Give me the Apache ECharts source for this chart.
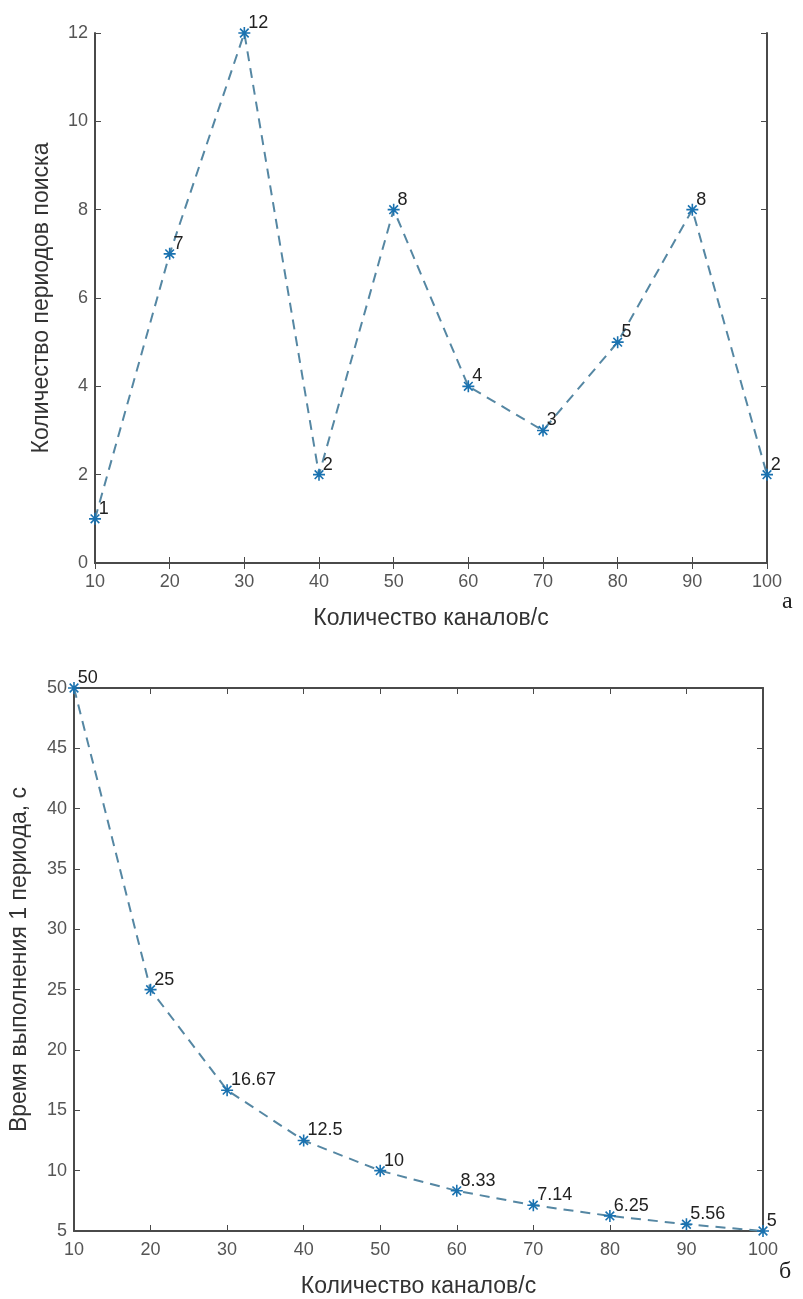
<!DOCTYPE html>
<html>
<head>
<meta charset="utf-8">
<script src="https://cdn.jsdelivr.net/npm/echarts@6/dist/echarts.min.js"></script>
<style>
    html, body { margin: 0; padding: 0; background: #fff; }
    #chart { width: 803px; height: 1299px; }
</style>
</head>
<body>
<div id="chart"></div>
<script>
const channels = [10, 20, 30, 40, 50, 60, 70, 80, 90, 100];
const periodsCount = [1, 7, 12, 2, 8, 4, 3, 5, 8, 2];
const periodTime = [50, 25, 16.67, 12.5, 10, 8.33, 7.14, 6.25, 5.56, 5];

const xName = 'Количество каналов/с';
const yNameA = 'Количество периодов поиска';
const yNameB = 'Время выполнения 1 периода, с';

const font = 'Liberation Sans';
const star = 'path://M0,-1L0,1M-1,0L1,0M-0.72,-0.72L0.72,0.72M-0.72,0.72L0.72,-0.72';

function pairs(ys) {
    return channels.map((x, i) => [x, ys[i]]);
}

function mainX(gi, gap) {
    return {
        gridIndex: gi, type: 'value', min: 10, max: 100, interval: 10,
        name: xName, nameLocation: 'middle', nameGap: gap,
        nameTextStyle: { color: '#333', fontSize: 23, fontFamily: font },
        axisLine: { show: true, lineStyle: { color: '#4a4a4a', width: 2 } },
        axisTick: { show: true, inside: true, length: 6, lineStyle: { color: '#4a4a4a' } },
        axisLabel: { color: '#555', fontSize: 18, fontFamily: font, margin: 10 },
        splitLine: { show: false }
    };
}

function mainY(gi, min, max, interval, name, gap) {
    return {
        gridIndex: gi, type: 'value', min: min, max: max, interval: interval,
        name: name, nameLocation: 'middle', nameGap: gap, nameRotate: 90,
        nameTextStyle: { color: '#333', fontSize: 23, fontFamily: font },
        axisLine: { show: true, lineStyle: { color: '#4a4a4a', width: 2 } },
        axisTick: { show: true, inside: true, length: 6, lineStyle: { color: '#4a4a4a' } },
        axisLabel: { color: '#555', fontSize: 18, fontFamily: font, margin: 7 },
        splitLine: { show: false }
    };
}

// mirrored axes for the box ticks (top / right)
function mirrorX(gi) {
    return {
        gridIndex: gi, type: 'value', min: 10, max: 100, interval: 10, position: 'top',
        axisLine: { show: true, lineStyle: { color: '#4a4a4a', width: 2 } },
        axisTick: { show: true, inside: true, length: 6, lineStyle: { color: '#4a4a4a' } },
        axisLabel: { show: false }, splitLine: { show: false }
    };
}

function mirrorY(gi, min, max, interval) {
    return {
        gridIndex: gi, type: 'value', min: min, max: max, interval: interval, position: 'right',
        axisLine: { show: true, lineStyle: { color: '#4a4a4a', width: 2 } },
        axisTick: { show: true, inside: true, length: 6, lineStyle: { color: '#4a4a4a' } },
        axisLabel: { show: false }, splitLine: { show: false }
    };
}

function lineSeries(xi, yi, ys) {
    return {
        type: 'line', xAxisIndex: xi, yAxisIndex: yi, data: pairs(ys),
        symbol: star, symbolSize: 12,
        itemStyle: { color: 'rgba(0,0,0,0)', borderColor: '#1a72b0', borderWidth: 1.6 },
        lineStyle: { color: '#5587a3', width: 2, type: [10, 7] },
        label: {
            show: true, position: 'right', distance: -3, offset: [0, -10],
            color: '#222', fontSize: 18, fontFamily: font,
            formatter: p => String(p.value[1])
        },
        emphasis: { disabled: true },
        z: 5
    };
}

const chart = echarts.init(document.getElementById('chart'));
chart.setOption({
    animation: false,
    backgroundColor: '#fff',
    grid: [
        { left: 95, top: 33, width: 672, height: 530 },
        { left: 71, top: 688, width: 692, height: 544 }
    ],
    xAxis: [mainX(0, 44), mirrorX(0), mainX(1, 44), mirrorX(1)],
    yAxis: [
        mainY(0, 0, 12, 2, yNameA, 42), mirrorY(0, 0, 12, 2),
        mainY(1, 5, 50, 5, yNameB, 43), mirrorY(1, 5, 50, 5)
    ],
    series: [
        lineSeries(0, 0, periodsCount),
        lineSeries(2, 2, periodTime)
    ],
    graphic: [
        { type: 'text', left: 782, top: 590, style: { text: 'a', fontSize: 24, fontFamily: 'Liberation Serif', fill: '#222' } },
        { type: 'text', left: 779, top: 1260, style: { text: 'б', fontSize: 24, fontFamily: 'Liberation Serif', fill: '#222' } }
    ]
});
</script>
</body>
</html>
